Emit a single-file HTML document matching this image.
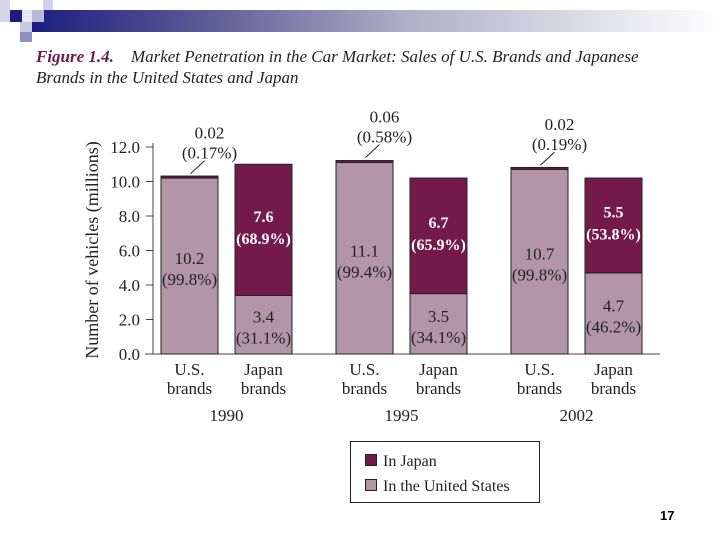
<!DOCTYPE html>
<html><head><meta charset="utf-8"><style>
body{margin:0;width:720px;height:540px;background:#fff;overflow:hidden;position:relative;font-family:"Liberation Serif",serif;}
.sq{position:absolute;}
</style></head><body>
<div style="position:absolute;left:30px;top:10px;width:690px;height:22px;background:linear-gradient(to right,#1c1c80,#5a5a95 25%,#b0b0c8 55%,#fff 100%);"></div>
<div class="sq" style="left:0;top:0;width:10px;height:22px;background:#d6d6ea"></div>
<div class="sq" style="left:10px;top:10px;width:12px;height:12px;background:#1c1c80"></div>
<div class="sq" style="left:22px;top:10px;width:10px;height:12px;background:#e8e8f4"></div>
<div class="sq" style="left:32px;top:10px;width:12px;height:12px;background:#b8b8d8"></div>
<div class="sq" style="left:43px;top:0;width:10px;height:10px;background:#d0d0e8"></div>
<div class="sq" style="left:20px;top:22px;width:12px;height:10px;background:#c8c8e2"></div>
<div class="sq" style="left:20px;top:32px;width:12px;height:10px;background:#9090c0"></div>
<div style="position:absolute;left:36px;top:46px;font-size:17px;font-style:italic;color:#222;line-height:21px;"><b style="color:#6e1a48">Figure 1.4.</b>&nbsp;&nbsp;&nbsp; Market Penetration in the Car Market: Sales of U.S. Brands and Japanese<br>Brands in the United States and Japan</div>
<svg width="720" height="540" style="position:absolute;left:0;top:0" id="chart">
<text transform="translate(98,250) rotate(-90)" text-anchor="middle" font-size="18" fill="#222" font-family="Liberation Serif, serif">Number of vehicles (millions)</text>
</svg>
<div style="position:absolute;left:350px;top:441px;width:188px;height:60px;border:1px solid #222;font-size:16px;color:#222;">
<div style="position:absolute;left:14px;top:11px;"><span style="display:inline-block;width:10px;height:10px;background:#731a4a;border:1px solid #222;margin-right:6px"></span>In Japan</div>
<div style="position:absolute;left:14px;top:36px;"><span style="display:inline-block;width:10px;height:10px;background:#b395a8;border:1px solid #222;margin-right:6px"></span>In the United States</div>
</div>
<div style="position:absolute;left:660px;top:508px;font:bold 13px 'Liberation Sans',sans-serif;">17</div>
<script>
const years=["1990","1995","2002"];
const brands=["U.S.","Japan"];
const inUS=[10.2,3.4,11.1,3.5,10.7,4.7];
const inJapan=[0.02,7.6,0.06,6.7,0.02,5.5];
const pctUS=["99.8%","31.1%","99.4%","34.1%","99.8%","46.2%"];
const pctJapan=["0.17%","68.9%","0.58%","65.9%","0.19%","53.8%"];
const ticks=[0,2,4,6,8,10,12];
const svg=document.getElementById('chart');
const NS='http://www.w3.org/2000/svg';
const y=v=>354-17.25*v;
const barX=[161,235,336,410,511,585],BW=57;
function mk(t,a,p){const e=document.createElementNS(NS,t);for(const k in a)e.setAttribute(k,a[k]);(p||svg).appendChild(e);return e;}
function txt(x,yy,s,o){const e=mk('text',Object.assign({x:x,y:yy,'text-anchor':'middle','font-size':17,fill:'#222','font-family':'Liberation Serif, serif'},o||{}));e.textContent=s;return e;}
const ax=mk('line',{x1:153,y1:y(12)-4,x2:153,y2:354,stroke:'#444','stroke-width':1});


const bl=mk('line',{x1:145,y1:354,x2:660,y2:354,stroke:'#444','stroke-width':1});


ticks.forEach(t=>{
 const l=mk('line',{x1:146,y1:y(t),x2:153,y2:y(t),stroke:'#444'});
 
 
 const e=txt(140,y(t)+6,t.toFixed(1),{'text-anchor':'end','font-size':17});
 
 
});
inUS.forEach((v,i)=>{
 const x=barX[i],cx=x+BW/2,jp=inJapan[i];
 const r=mk('rect',{x:x,y:y(v),width:BW,height:y(0)-y(v),fill:'#b395a8',stroke:'#222','stroke-width':1});
 
 
 const h=Math.max(2,y(v)-y(v+jp));
 const r2=mk('rect',{x:x,y:y(v)-h,width:BW,height:h,fill:'#731a4a',stroke:'#222','stroke-width':1});
 
 
 const mid=(y(0)+y(v))/2;
 txt(cx,mid-2,v.toFixed(1));txt(cx,mid+19,'('+pctUS[i]+')');
 if(i%2===1){
  const jm=(y(v)+y(v+jp))/2;
  txt(cx,jm-8,jp.toFixed(1),{fill:'#fff','font-weight':'bold','font-size':16});
  txt(cx,jm+14,'('+pctJapan[i]+')',{fill:'#fff','font-weight':'bold','font-size':16});
 } else {
  const ty=y(v+jp);
  mk('line',{x1:cx+1,y1:ty-4,x2:cx+15,y2:ty-17,stroke:'#222'});
  txt(cx+20,ty-39,jp.toFixed(2));txt(cx+20,ty-19,'('+pctJapan[i]+')');
 }
 txt(cx,375,brands[i%2],{'font-size':17});
 txt(cx,394,'brands',{'font-size':17});
});
years.forEach((yr,k)=>{
 const e=txt((barX[2*k]+barX[2*k+1]+BW)/2,421,yr);
 
 
});
</script>
</body></html>
